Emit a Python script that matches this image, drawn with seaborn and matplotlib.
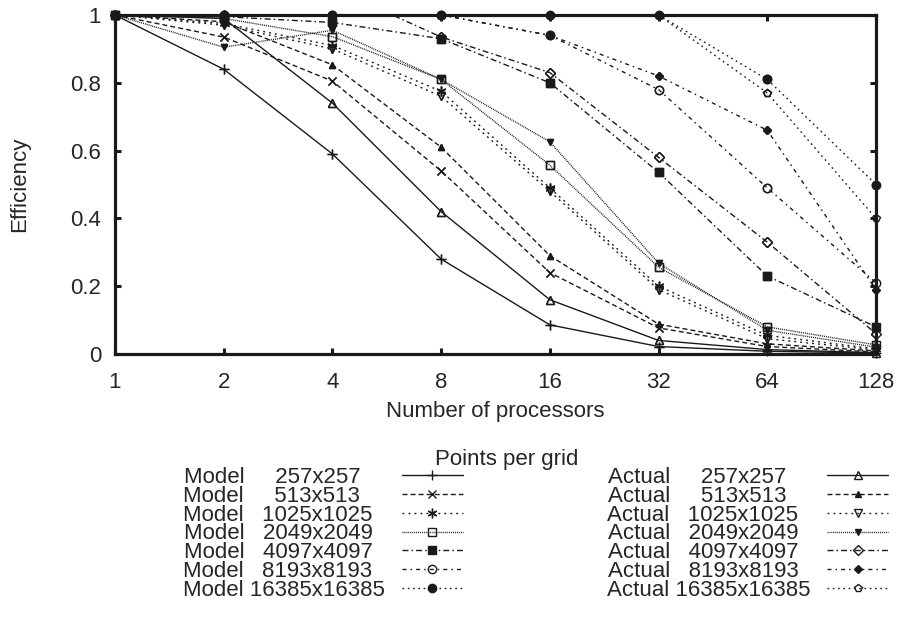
import matplotlib
matplotlib.use("Agg")
import matplotlib.pyplot as plt
import seaborn as sns
import numpy as np

# ---------------- data ----------------
procs = [1, 2, 4, 8, 16, 32, 64, 128]
sizes = ["257x257", "513x513", "1025x1025", "2049x2049",
         "4097x4097", "8193x8193", "16385x16385"]

model_257 = [1.0, 0.84, 0.59, 0.28, 0.086, 0.022, 0.008, 0.003]
model_513 = [1.0, 0.935, 0.805, 0.54, 0.24, 0.077, 0.022, 0.006]
model_1025 = [1.0, 0.975, 0.91, 0.775, 0.49, 0.20, 0.055, 0.015]
model_2049 = [1.0, 0.99, 0.936, 0.81, 0.557, 0.256, 0.08, 0.027]
model_4097 = [1.0, 0.995, 0.978, 0.93, 0.80, 0.536, 0.23, 0.08]
model_8193 = [1.0, 1.0, 1.0, 1.0, 0.94, 0.78, 0.49, 0.21]
model_16385 = [1.0, 1.0, 1.0, 1.0, 1.0, 1.0, 0.81, 0.50]

actual_257 = [1.0, 0.99, 0.74, 0.42, 0.16, 0.04, 0.013, 0.004]
actual_513 = [1.0, 0.98, 0.853, 0.61, 0.29, 0.088, 0.03, 0.009]
actual_1025 = [1.0, 0.97, 0.90, 0.76, 0.48, 0.19, 0.045, 0.012]
actual_2049 = [1.0, 0.905, 0.955, 0.81, 0.626, 0.268, 0.07, 0.02]
actual_4097 = [1.0, 1.0, 1.08, 0.935, 0.83, 0.58, 0.33, 0.06]
actual_8193 = [1.0, 1.0, 1.0, 1.0, 0.94, 0.82, 0.66, 0.19]
actual_16385 = [1.0, 1.0, 1.0, 1.0, 1.0, 1.0, 0.77, 0.40]

model_series = [model_257, model_513, model_1025, model_2049,
                model_4097, model_8193, model_16385]
actual_series = [actual_257, actual_513, actual_1025, actual_2049,
                 actual_4097, actual_8193, actual_16385]

x_ticks = [1, 2, 4, 8, 16, 32, 64, 128]
y_ticks = [0, 0.2, 0.4, 0.6, 0.8, 1]
y_tick_labels = ["0", "0.2", "0.4", "0.6", "0.8", "1"]

# ---------------- styles ----------------
dash_styles = [
    "-",
    (0, (3.6, 2.2)),
    (0, (1.4, 2.9)),
    (0, (0.7, 0.7)),
    (0, (4.3, 2.2, 1.1, 2.2)),
    (0, (2.9, 2.9, 1.1, 2.9)),
    (0, (1.2, 2.6)),
]
model_markers = [("+", 7, "k"), ("x", 6, "k"), ((6, 2, 0), 7, "k"),
                 ("s", 5.5, "none"), ("s", 5.5, "k"), ("o", 6, "none"),
                 ("o", 6, "k")]
actual_markers = [("^", 6, "none"), ("^", 4.5, "k"), ("v", 6, "none"),
                  ("v", 4.5, "k"), ("D", 5, "none"), ("D", 4, "k"),
                  ("p", 6, "none")]

sns.set_theme(style="white")
plt.rcParams["font.family"] = ["Liberation Sans", "DejaVu Sans"]
FS = 16

fig = plt.figure(figsize=(9.03, 6.34), dpi=100)
ax = fig.add_axes([115 / 903, 1 - 354 / 634, 761 / 903, 339 / 634])


def draw(vals, ls, mk, label):
    m, ms, fc = mk
    sns.lineplot(x=procs, y=vals, ax=ax, color="k", lw=1.0, linestyle=ls,
                 marker=m, markersize=ms, markerfacecolor=fc,
                 markeredgecolor="k", markeredgewidth=1.0, legend=False)
    line = ax.lines[-1]
    line.set_label(label)
    xs = [p for p, v in zip(procs, vals) if v <= 1.0]
    ys = [v for v in vals if v <= 1.0]
    ax.plot(xs, ys, linestyle="none", marker=m, markersize=ms,
            markerfacecolor=fc, markeredgecolor="k", markeredgewidth=1.0,
            clip_on=False, zorder=3)
    return line


def pad_label(prefix, size):
    extra = len("16385x16385") - len(size)
    return prefix + " " * (1 + extra) + size + " " * extra


model_handles = []
actual_handles = []
for i, s in enumerate(sizes):
    model_handles.append(draw(model_series[i], dash_styles[i],
                              model_markers[i], pad_label("Model", s)))
for i, s in enumerate(sizes):
    actual_handles.append(draw(actual_series[i], dash_styles[i],
                               actual_markers[i], pad_label("Actual", s)))

ax.set_xscale("log", base=2)
ax.set_xlim(1, 128)
ax.set_ylim(0, 1)
ax.set_xticks(x_ticks)
ax.set_xticklabels([str(t) for t in x_ticks])
ax.minorticks_off()
ax.set_yticks(y_ticks)
ax.set_yticklabels(y_tick_labels)

for sp in ax.spines.values():
    sp.set_visible(True)
    sp.set_linewidth(2.3)
    sp.set_color("k")
ax.tick_params(axis="both", which="major", direction="in", length=4.5,
               width=2.2, color="k", labelsize=FS, top=True, right=True,
               bottom=True, left=True)
ax.tick_params(axis="x", pad=13)
ax.tick_params(axis="y", pad=10)

ax.set_xlabel("Number of processors", fontsize=FS)
ax.set_ylabel("Efficiency", fontsize=FS)
ax.xaxis.set_label_coords(0.5, -0.14)
ax.yaxis.set_label_coords(-0.112, 0.5)

leg = ax.legend(handles=model_handles + actual_handles, ncol=2,
                markerfirst=False, frameon=False, fontsize=FS,
                handlelength=2.75, handletextpad=0.75, columnspacing=6.5,
                labelspacing=-0.1, borderpad=0, borderaxespad=0,
                loc="upper left", bbox_to_anchor=(183 / 903, 1 - 467 / 634),
                bbox_transform=fig.transFigure)
fig.text(507 / 903, 1 - 459 / 634, "Points per grid", fontsize=FS,
         ha="center", va="center")

fig.savefig("out.png", dpi=100)
